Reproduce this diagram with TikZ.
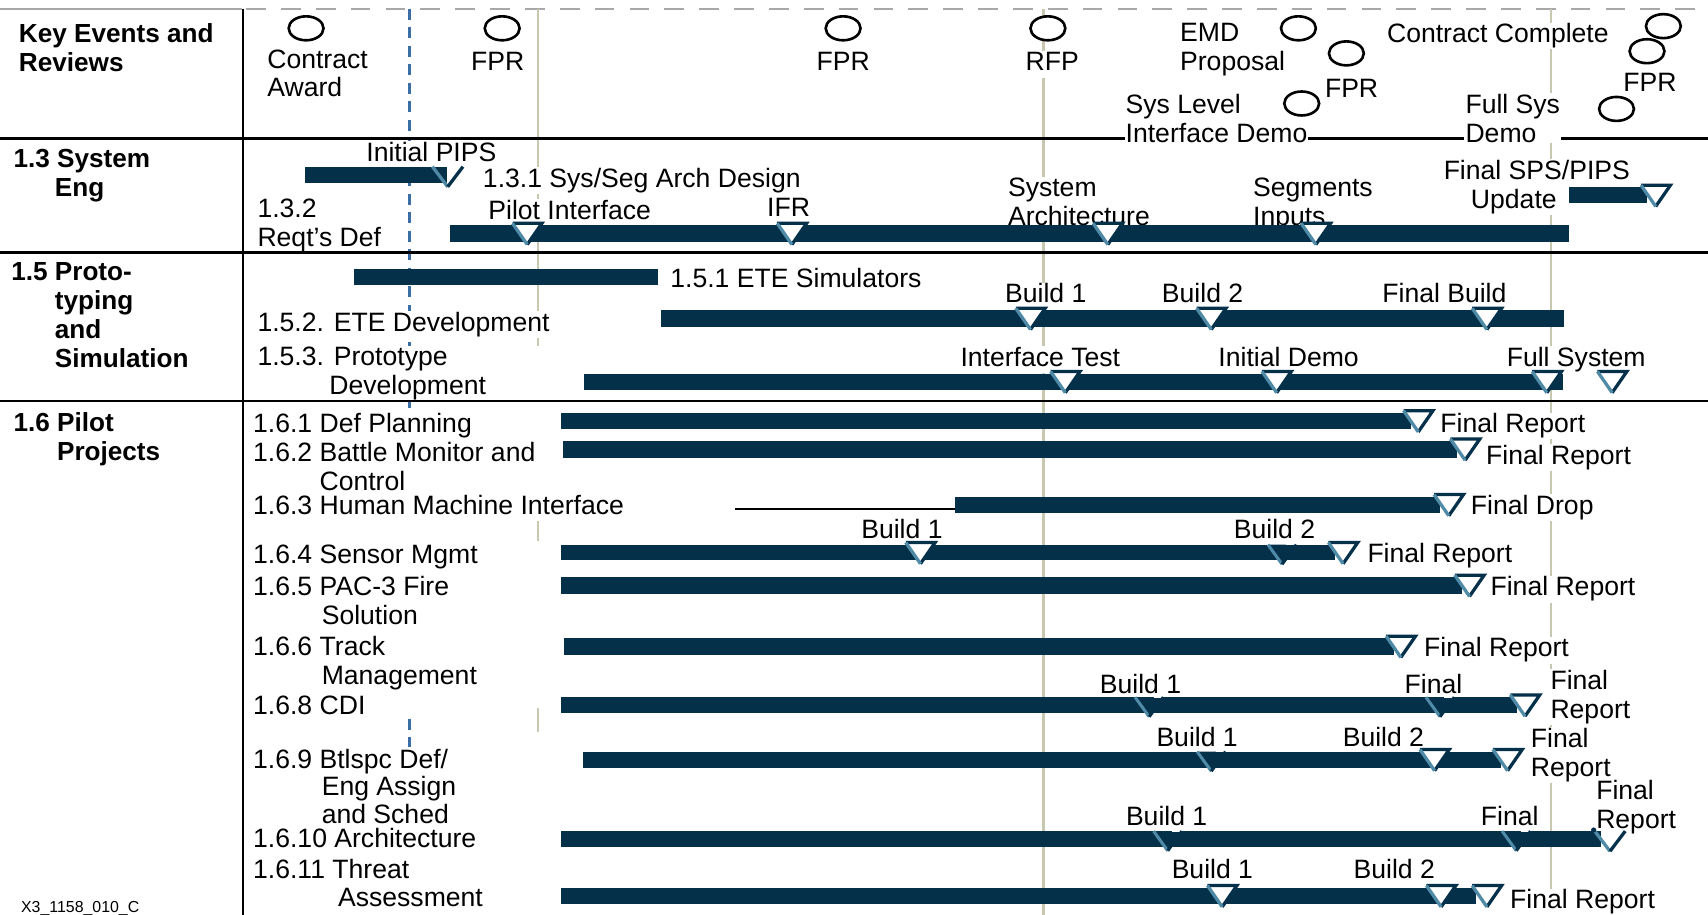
\documentclass[tikz,border=0pt]{standalone}
\usepackage{fontspec}
\setmainfont{Liberation Sans}
\usetikzlibrary{shapes.geometric}
\definecolor{barnavy}{HTML}{04304A}
\definecolor{msteal}{HTML}{4F8AA6}
\definecolor{gridbeige}{HTML}{C8C8B0}
\definecolor{awardblue}{HTML}{3A6EA5}
\definecolor{topgray}{HTML}{A8A8A8}
\tikzset{
  % white milestone triangle sitting on a bar
  ms/.pic={
    \fill[white] (-13.5,-2) -- (13.5,-2) -- (0,17.5) -- cycle;
    \draw[barnavy, line width=1.5pt, line join=miter] (0,17.5) -- (13.5,-2) -- (-13.5,-2);
    \draw[msteal, line width=1.5pt] (-13.5,-2) -- (0,17.5);
  },
  % milestone drawn as a notch in the bar
  msn/.pic={
    \fill[barnavy] (-13,0) -- (13,0) -- (0,18) -- cycle;
    \draw[white, line width=1pt] (4,-0.5) -- (13,-0.5);
    \draw[msteal, line width=1.4pt] (-13,0) -- (0,18);
    \draw[barnavy, line width=1.4pt] (0,18) -- (13,0);
  },
  % open milestone mark
  msv/.pic={
    \draw[msteal, line width=1.5pt] (-14,0) -- (0,18.5);
    \draw[barnavy, line width=1.5pt] (0,18.5) -- (14,0);
  },
  txt/.style={font=\fontsize{12.2}{13.2}\selectfont},
  lbl/.style={txt, anchor=west, text height=8.7pt, text depth=2.6pt, inner sep=0.5pt, fill=white},
  clbl/.style={lbl, anchor=center},
  mlbl/.style={txt, anchor=north west, align=left, inner sep=0.5pt, fill=white},
  hdr/.style={mlbl, font=\fontsize{12}{13.3}\selectfont\bfseries},
  evt/.style={draw=black, line width=1.2pt, fill=white, ellipse, minimum width=16pt, minimum height=11pt, inner sep=0pt},
  sepline/.style={black, line width=1.2pt},
  gridline/.style={gridbeige, line width=1pt},
  bar/.style={fill=barnavy},
}
\begin{document}
\begin{tikzpicture}[x=0.5pt,y=-0.5pt]
\fill[white] (0,0) rectangle (1568,840);
\useasboundingbox (0,0) rectangle (1568,840);

% ---- frame and time grid ----
\draw[topgray, line width=0.8pt] (0,8) -- (222,8);
\draw[topgray, line width=0.8pt, dash pattern=on 9pt off 7pt] (226,8) -- (1568,8);
\draw[gridline] (494,8) -- (494,318);
\draw[gridline] (494,478) -- (494,497);
\draw[gridline] (494,650) -- (494,672);
\draw[gridline] (958,8) -- (958,840);
\draw[gridline] (1424,8) -- (1424,840);
\draw[awardblue, line width=1pt, dash pattern=on 5pt off 3.5pt] (376,8) -- (376,380);
\draw[awardblue, line width=1pt, dash pattern=on 5pt off 3.5pt] (376,660) -- (376,686);
\draw[sepline] (0,127) -- (1568,127);
\draw[sepline] (223,8) -- (223,840);

% ---- key events ----
\node[hdr] (hkey) at (16,20) {Key Events and\\Reviews};
\node[mlbl] (tca) at (244,44) {Contract\\Award};
\node[clbl] (tfpr1) at (457,59) {FPR};
\node[clbl] (tfpr2) at (774,59) {FPR};
\node[clbl] (trfp) at (966,59) {RFP};
\node[mlbl] (temd) at (1082,20) {EMD\\Proposal};
\node[lbl] (tfpr3) at (1215,83) {FPR};
\node[mlbl] (tsld) at (1032,85) {Sys Level\\Interface Demo};
\node[lbl] (tcc) at (1272,33) {Contract Complete};
\node[lbl] (tfpr4) at (1489,78) {FPR};
\node[mlbl] (tfsd) at (1344,85) {Full Sys\\Demo};

\node[evt] (e1) at (281,26) {};
\node[evt] (e2) at (461,26) {};
\node[evt] (e3) at (774,26) {};
\node[evt] (e4) at (962,26) {};
\node[evt] (e5) at (1192,26) {};
\node[evt] (e6) at (1236,49) {};
\node[evt] (e7) at (1195,95) {};
\node[evt] (e8) at (1527,24) {};
\node[evt] (e9) at (1512,47) {};
\node[evt] (e10) at (1484,100) {};

% ---- section headings ----
\node[hdr] (h13) at (11,136) {1.3 System\\\hspace*{19pt}Eng};
\node[hdr] (h15) at (9,240) {1.5 Proto-\\\hspace*{20pt}typing\\\hspace*{20pt}and\\\hspace*{20pt}Simulation};
\node[hdr] (h16) at (11,377) {1.6 Pilot\\\hspace*{20pt}Projects};

% ---- 1.3 System Eng ----
\node[clbl] (tpips) at (396,142) {Initial PIPS};
\node[lbl] (t131) at (442,166) {1.3.1 Sys/Seg Arch Design};
\node[mlbl] (t132) at (235,181) {1.3.2\\Reqt’s Def};
\node[lbl] (tpil) at (447,195) {Pilot Interface};
\node[clbl] (tifr) at (724,193) {IFR};
\node[mlbl] (tsa) at (924,162) {System\\Architecture};
\node[mlbl] (tseg) at (1149,162) {Segments\\Inputs};
\node[mlbl] (tsps) at (1324,146) {Final SPS/PIPS\\\hspace*{12.5pt}Update};

% ---- 1.5 Prototyping and Simulation ----
\node[lbl] (t151) at (614,258) {1.5.1 ETE Simulators};
\node[lbl] (t152) at (235,298) {1.5.2. ETE Development};
\node[clbl] (t152a) at (960,272) {Build 1};
\node[clbl] (t152b) at (1104,272) {Build 2};
\node[clbl] (t152c) at (1326,272) {Final Build};
\node[mlbl] (t153) at (235,317) {1.5.3. Prototype\\\hspace*{33pt}Development};
\node[clbl] (t153a) at (955,330) {Interface Test};
\node[clbl] (t153b) at (1183,330) {Initial Demo};
\node[clbl] (t153c) at (1447,330) {Full System};

% ---- 1.6 Pilot Projects ----
\node[lbl] (t161) at (231,391) {1.6.1 Def Planning};
\node[mlbl] (t162) at (231,405) {1.6.2 Battle Monitor and\\\hspace*{30.5pt}Control};
\node[lbl] (t163) at (231,466) {1.6.3 Human Machine Interface};
\node[lbl] (t164) at (231,511) {1.6.4 Sensor Mgmt};
\node[mlbl] (t165) at (231,528) {1.6.5 PAC-3 Fire\\\hspace*{31.5pt}Solution};
\node[mlbl] (t166) at (231,583) {1.6.6 Track\\\hspace*{31.5pt}Management};
\node[lbl] (t168) at (231,650) {1.6.8 CDI};
\node[mlbl, font=\fontsize{12.2}{12.8}\selectfont] (t169) at (231,686) {1.6.9 Btlspc Def/\\\hspace*{31.5pt}Eng Assign\\\hspace*{31.5pt}and Sched};
\node[lbl] (t1610) at (231,772) {1.6.10 Architecture};
\node[mlbl] (t1611) at (231,787) {1.6.11 Threat\\\hspace*{39pt}Assessment};

\node[lbl] (r161) at (1321,391) {Final Report};
\node[lbl] (r162) at (1363,420) {Final Report};
\node[lbl] (r163) at (1349,466) {Final Drop};
\node[clbl] (b164a) at (828,488) {Build 1};
\node[clbl] (b164b) at (1170,488) {Build 2};
\node[lbl] (r164) at (1254,510) {Final Report};
\node[lbl] (r165) at (1367,541) {Final Report};
\node[lbl] (r166) at (1306,597) {Final Report};
\node[clbl] (b168a) at (1047,631) {Build 1};
\node[clbl] (b168b) at (1316,631) {Final};
\node[mlbl] (r168) at (1422,614) {Final\\Report};
\node[clbl] (b169a) at (1099,679) {Build 1};
\node[clbl] (b169b) at (1270,679) {Build 2};
\node[mlbl] (r169) at (1404,667) {Final\\Report};
\node[clbl] (b1610a) at (1071,752) {Build 1};
\node[clbl] (b1610b) at (1386,752) {Final};
\node[mlbl] (r1610) at (1464,715) {Final\\Report};
\node[clbl] (b1611a) at (1113,800) {Build 1};
\node[clbl] (b1611b) at (1280,800) {Build 2};
\node[lbl] (r1611) at (1385,828) {Final Report};

\node[anchor=west, font=\fontsize{7.3}{8}\selectfont, inner sep=0pt] (tag) at (19,834) {X3\_1158\_010\_C};

\draw[sepline] (0,232) -- (1568,232);
\draw[sepline] (0,368) -- (1568,368);

% ---- task bars ----
\fill[bar] (280,153) rectangle (410,168);
\fill[bar] (413,207) rectangle (1440,222);
\fill[bar] (1440,172) rectangle (1512,186);
\fill[bar] (325,247) rectangle (604,262);
\fill[bar] (607,285) rectangle (1436,300);
\fill[bar] (536,343) rectangle (1435,358);
\fill[bar] (515,379) rectangle (1295,394);
\fill[bar] (517,405) rectangle (1338,420);
\coordinate (hmi) at (675,467);
\coordinate (hmibar) at (877,467);
\draw[black, line width=1pt] (hmi) -- (hmibar);
\fill[bar] (877,456) rectangle (1322,471);
\fill[bar] (515,500) rectangle (1226,514);
\fill[bar] (515,530) rectangle (1342,545);
\fill[bar] (518,586) rectangle (1280,601);
\fill[bar] (515,640) rectangle (1393,655);
\fill[bar] (535,690) rectangle (1378,705);
\fill[bar] (515,763) rectangle (1470,778);
\fill[bar] (515,815) rectangle (1355,830);

% ---- milestones ----
\pic at (411,153) {msv};
\pic at (484,207) {ms};
\pic at (727,207) {ms};
\pic at (1017,207) {ms};
\pic at (1208,207) {ms};
\pic at (1520,172) {ms};
\pic at (946,285) {ms};
\pic at (1112,285) {ms};
\pic at (1365,285) {ms};
\pic at (978,343) {ms};
\pic at (1172,343) {ms};
\pic at (1420,343) {ms};
\pic at (1480,343) {ms};
\pic at (1302,379) {ms};
\pic at (1345,405) {ms};
\pic at (1330,456) {ms};
\pic at (845,500) {ms};
\pic at (1177,500) {msn};
\pic at (1233,500) {ms};
\pic at (1349,530) {ms};
\pic at (1286,586) {ms};
\pic at (1055,640) {msn};
\pic at (1322,640) {msn};
\pic at (1400,640) {ms};
\pic at (1112,690) {msn};
\pic at (1317,690) {ms};
\pic at (1384,690) {ms};
\pic at (1072,763) {msn};
\pic at (1392,763) {msn};
\pic at (1478,763) {msv};
\fill[barnavy] (1463,762) circle (1.2pt);
\pic at (1122,815) {ms};
\pic at (1323,815) {ms};
\pic at (1365,815) {ms};
\end{tikzpicture}
\end{document}
